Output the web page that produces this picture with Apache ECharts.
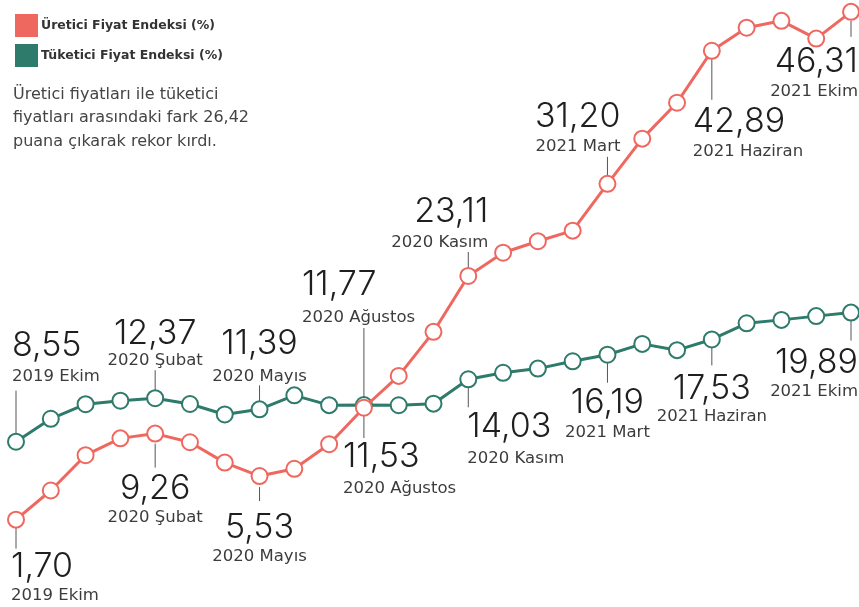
<!DOCTYPE html>
<html>
    <head>
        <title>Üretici ve Tüketici Fiyat Endeksi</title>
        <meta charset="utf-8">
        <script src="https://cdn.jsdelivr.net/npm/echarts@6/dist/echarts.min.js"></script>
        <style>
            html, body { margin: 0; padding: 0; background: #fff; }
        </style>
    </head>

    <body>
        <div id="chart" style="width:859px; height:607px;"></div>

        <script>
            // aylar: 2019 Ekim - 2021 Ekim
            var months = ['2019 Ekim', '2019 Kasım', '2019 Aralık', '2020 Ocak', '2020 Şubat', '2020 Mart',
                '2020 Nisan', '2020 Mayıs', '2020 Haziran', '2020 Temmuz', '2020 Ağustos', '2020 Eylül',
                '2020 Ekim', '2020 Kasım', '2020 Aralık', '2021 Ocak', '2021 Şubat', '2021 Mart',
                '2021 Nisan', '2021 Mayıs', '2021 Haziran', '2021 Temmuz', '2021 Ağustos', '2021 Eylül', '2021 Ekim'];

            var ufe = [1.70, 4.26, 7.36, 8.84, 9.26, 8.50, 6.71, 5.53, 6.17, 8.33, 11.53, 14.33, 18.20,
                23.11, 25.15, 26.16, 27.09, 31.20, 35.17, 38.33, 42.89, 44.92, 45.52, 43.96, 46.31];
            var tufe = [8.55, 10.56, 11.84, 12.15, 12.37, 11.86, 10.94, 11.39, 12.62, 11.76, 11.77, 11.75, 11.89,
                14.03, 14.60, 14.97, 15.61, 16.19, 17.14, 16.59, 17.53, 18.95, 19.25, 19.58, 19.89];

            // etiketlenen aylar
            var noteMonths = [0, 4, 7, 10, 13, 17, 20, 24];

            var seriesNames = ['Üretici Fiyat Endeksi (%)', 'Tüketici Fiyat Endeksi (%)'];
            var red = '#ef6860';
            var green = '#2e7a6b';

            // etiket yerleşimi (noktaya göre): [dx, align, sayı dy, tarih dy, çizgi başı, çizgi sonu]
            var ufeLayout = [
                [-5, 'left', 46, 75, 8, 29],
                [0, 'center', 54, 83, 10, 34],
                [0, 'center', 51, 80, 11, 25],
                [-21, 'left', 48, 80, 0, 0],
                [20, 'right', -65, -34, -24, -8],
                [13, 'right', -68, -38, -27, -8],
                [-19, 'left', 70, 100, 8, 49],
                [7, 'right', 49, 79, 9, 25]
            ];
            var tufeLayout = [
                [-4, 'left', -97, -66, -51, -8],
                [0, 'center', -65, -38, -28, -8],
                [0, 'center', -67, -34, -24, -8],
                [-62, 'left', -121, -88, -77, 33],
                [-1, 'left', 46, 78, 8, 28],
                [0, 'center', 47, 77, 8, 28],
                [0, 'center', 48, 76, 8, 26],
                [7, 'right', 49, 78, 8, 28]
            ];

            function fmt(v) {
                return v.toFixed(2).replace('.', ',');
            }

            function noteData(values) {
                return noteMonths.map(function (i) { return [i, values[i]]; });
            }

            function noteRenderer(layout) {
                return function (params, api) {
                    var p = api.coord([api.value(0), api.value(1)]);
                    var l = layout[params.dataIndex];
                    var x = p[0] + l[0];
                    var children = [];
                    if (l[4] !== l[5]) {
                        children.push({
                            type: 'line',
                            shape: { x1: p[0], y1: p[1] + l[4], x2: p[0], y2: p[1] + l[5] },
                            style: { stroke: '#555', lineWidth: 1 }
                        });
                    }
                    children.push({
                        type: 'text',
                        style: {
                            x: x, y: p[1] + l[2] + 1,
                            text: fmt(api.value(1)),
                            align: l[1], verticalAlign: 'middle',
                            font: '300 34px Inter, Lato, sans-serif',
                            fill: '#1f1f1f'
                        }
                    });
                    children.push({
                        type: 'text',
                        style: {
                            x: x, y: p[1] + l[3] + 1,
                            text: months[api.value(0)],
                            align: l[1], verticalAlign: 'middle',
                            font: '16.5px "DejaVu Sans", sans-serif',
                            fill: '#3c3c3c'
                        }
                    });
                    return { type: 'group', children: children };
                };
            }

            var chart = echarts.init(document.getElementById('chart'), null, {renderer: 'canvas'});

            chart.setOption({
                animation: false,
                backgroundColor: '#fff',
                grid: { left: 16, right: 8, top: 4, bottom: 68 },
                legend: {
                    orient: 'vertical',
                    left: 10, top: 9,
                    itemWidth: 23, itemHeight: 23, itemGap: 7,
                    icon: 'rect',
                    selectedMode: false,
                    data: [
                        { name: seriesNames[0], itemStyle: { color: red, borderWidth: 0 } },
                        { name: seriesNames[1], itemStyle: { color: green, borderWidth: 0 } }
                    ],
                    textStyle: { fontFamily: '"DejaVu Sans", sans-serif', fontWeight: 'bold', fontSize: 12.5, color: '#333', padding: [0, 0, 0, -2] }
                },
                graphic: [{
                    type: 'text',
                    left: 13, top: 83,
                    style: {
                        text: 'Üretici fiyatları ile tüketici\nfiyatları arasındaki fark 26,42\npuana çıkarak rekor kırdı.',
                        font: '16px "DejaVu Sans", sans-serif',
                        lineHeight: 23.5,
                        fill: '#444'
                    }
                }],
                xAxis: { type: 'category', data: months, boundaryGap: false, show: false },
                yAxis: { type: 'value', min: 0, max: 47, show: false },
                series: [
                    {
                        name: seriesNames[1],
                        type: 'line',
                        data: tufe,
                        clip: false,
                        symbol: 'circle',
                        symbolSize: 16,
                        lineStyle: { color: green, width: 3 },
                        itemStyle: { color: '#fff', borderColor: green, borderWidth: 2 },
                        z: 2
                    },
                    {
                        name: seriesNames[0],
                        type: 'line',
                        data: ufe,
                        clip: false,
                        symbol: 'circle',
                        symbolSize: 16,
                        lineStyle: { color: red, width: 3 },
                        itemStyle: { color: '#fff', borderColor: red, borderWidth: 2 },
                        z: 3
                    },
                    {
                        type: 'custom',
                        data: noteData(tufe),
                        renderItem: noteRenderer(tufeLayout),
                        clip: false,
                        silent: true,
                        z: 1
                    },
                    {
                        type: 'custom',
                        data: noteData(ufe),
                        renderItem: noteRenderer(ufeLayout),
                        clip: false,
                        silent: true,
                        z: 1
                    }
                ]
            });
        </script>
    </body>
</html>
